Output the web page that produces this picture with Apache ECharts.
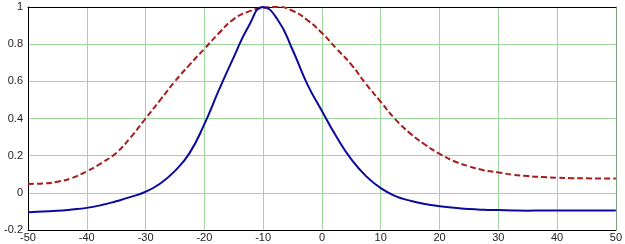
<!DOCTYPE html>
<html>
<head>
<meta charset="utf-8">
<script src="https://cdn.jsdelivr.net/npm/echarts@6/dist/echarts.min.js"></script>
<style>
html,body{margin:0;padding:0;background:#fff;}
#c{width:625px;height:244px;}
</style>
</head>
<body>
<div id="c"></div>
<script>
var xs = [-50,-47.5,-45,-42.5,-40,-37.5,-35,-32.5,-30,-27.5,-25,-22.5,-20,-17.5,-15,-12.5,-10,-7.5,-5,-2.5,0,2.5,5,7.5,10,12.5,15,17.5,20,22.5,25,27.5,30,32.5,35,37.5,40,42.5,45,47.5,50];
var blueValues = [-0.104,-0.1,-0.097,-0.09,-0.081,-0.066,-0.045,-0.022,0.006,0.05,0.118,0.215,0.37,0.555,0.73,0.895,1.0,0.93,0.77,0.585,0.44,0.3,0.18,0.09,0.025,-0.018,-0.042,-0.06,-0.072,-0.08,-0.087,-0.091,-0.093,-0.095,-0.096,-0.095,-0.095,-0.095,-0.095,-0.095,-0.095];
var redValues = [0.048,0.05,0.06,0.08,0.116,0.16,0.215,0.3,0.4,0.5,0.6,0.69,0.775,0.86,0.935,0.975,0.995,1.0,0.98,0.93,0.86,0.775,0.69,0.585,0.49,0.395,0.32,0.26,0.21,0.17,0.143,0.122,0.11,0.097,0.09,0.085,0.081,0.079,0.078,0.077,0.077];
var xTicks = {min:-50, max:50, interval:10};
var yTicks = {min:-0.2, max:1, interval:0.2};

function pairs(v){ return xs.map(function(x,i){ return [x, v[i]]; }); }

var chart = echarts.init(document.getElementById('c'), null, {renderer:'canvas'});
var labelStyle = {color:'#222', fontFamily:'Liberation Sans, Arial, sans-serif', fontSize:11};
chart.setOption({
  animation:false,
  backgroundColor:'#fff',
  grid:{left:28, right:8, top:7, bottom:14, show:false},
  xAxis:[{
    type:'value', min:xTicks.min, max:xTicks.max, interval:xTicks.interval,
    axisLine:{show:true, onZero:false, lineStyle:{color:'#000', width:1}},
    axisTick:{show:false},
    axisLabel:Object.assign({margin:2}, labelStyle),
    splitLine:{show:true, lineStyle:{color:'#9fd89f', width:1}}
  },{
    type:'value', position:'top', min:xTicks.min, max:xTicks.max,
    axisLine:{show:true, onZero:false, lineStyle:{color:'#000', width:1}},
    axisTick:{show:false}, axisLabel:{show:false}, splitLine:{show:false}
  }],
  yAxis:[{
    type:'value', min:yTicks.min, max:yTicks.max, interval:yTicks.interval,
    axisLine:{show:true, onZero:false, lineStyle:{color:'#000', width:1}},
    axisTick:{show:false},
    axisLabel:Object.assign({margin:5}, labelStyle),
    splitLine:{show:true, lineStyle:{color:'#9fd89f', width:1}}
  },{
    type:'value', position:'right', min:yTicks.min, max:yTicks.max,
    axisLine:{show:true, onZero:false, lineStyle:{color:'#7f9f7f', width:1}},
    axisTick:{show:false}, axisLabel:{show:false}, splitLine:{show:false}
  }],
  series:[{
    type:'line', data:pairs(redValues), smooth:0.5, symbol:'none',
    lineStyle:{color:'#a81c1c', width:2, type:[6,3]}, z:3
  },{
    type:'line', data:pairs(blueValues), smooth:0.5, symbol:'none',
    lineStyle:{color:'#0a0a9c', width:2}, z:4
  }]
});
</script>
</body>
</html>
